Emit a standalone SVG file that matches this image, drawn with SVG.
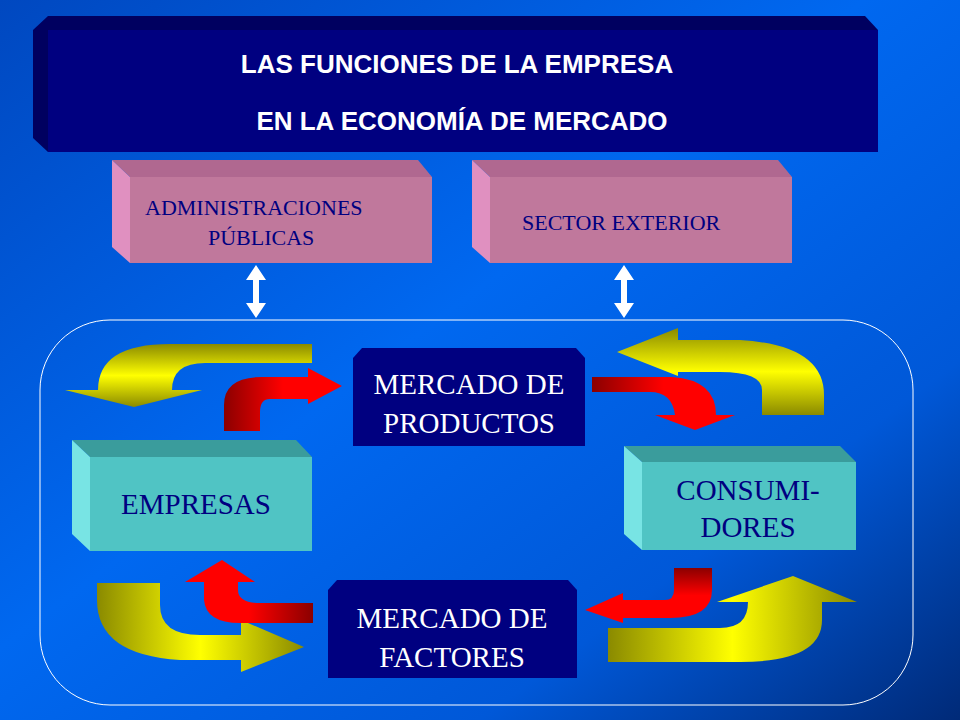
<svg xmlns="http://www.w3.org/2000/svg" width="960" height="720" viewBox="0 0 960 720">
<defs>
<linearGradient id="bg" x1="0" y1="0" x2="1" y2="1"><stop offset="0" stop-color="#0048c0"/><stop offset="0.45" stop-color="#0068f0"/><stop offset="0.75" stop-color="#0058d8"/><stop offset="1" stop-color="#002a78"/></linearGradient>
<linearGradient id="yv" x1="0" y1="0" x2="0" y2="1"><stop offset="0" stop-color="#8a8a00"/><stop offset="0.5" stop-color="#ffff00"/><stop offset="1" stop-color="#8a8a00"/></linearGradient>
<linearGradient id="yh" x1="0" y1="0" x2="1" y2="0"><stop offset="0" stop-color="#8a8a00"/><stop offset="0.5" stop-color="#ffff00"/><stop offset="1" stop-color="#8a8a00"/></linearGradient>
<linearGradient id="rh" x1="0" y1="0" x2="1" y2="0"><stop offset="0" stop-color="#8b0000"/><stop offset="0.5" stop-color="#ff0000"/><stop offset="1" stop-color="#ff0000"/></linearGradient>
<linearGradient id="rl" x1="1" y1="0" x2="0" y2="0"><stop offset="0" stop-color="#8b0000"/><stop offset="0.5" stop-color="#ff0000"/><stop offset="1" stop-color="#ff0000"/></linearGradient>
<linearGradient id="rv" x1="0" y1="1" x2="0" y2="0"><stop offset="0" stop-color="#ff0000"/><stop offset="1" stop-color="#ff0000"/></linearGradient>
<linearGradient id="rd" x1="0" y1="0" x2="0" y2="1"><stop offset="0" stop-color="#8b0000"/><stop offset="0.5" stop-color="#ff0000"/><stop offset="1" stop-color="#ff0000"/></linearGradient>
</defs>
<style>
.nav{fill:#000080}
.navd{fill:#000060}
.pf{fill:#c0789c}.pt{fill:#b06890}.pl{fill:#e090c0}
.tf{fill:#50c4c4}.tt{fill:#3a9c9c}.tl{fill:#78e4e4}
.tt1{font-family:"Liberation Sans",Arial,sans-serif;font-weight:bold;font-size:26px;fill:#fff;text-anchor:middle}
.pk{font-family:"Liberation Serif","Times New Roman",serif;font-size:22px;fill:#000080}
.nd{font-family:"Liberation Serif","Times New Roman",serif;font-size:29px;fill:#fff;text-anchor:middle}
.nd2{font-family:"Liberation Serif","Times New Roman",serif;font-size:29px;fill:#000080;text-anchor:middle}
</style>
<rect width="960" height="720" fill="url(#bg)"/>
<g id="title">
<polygon class="navd" points="33,30 48,16 865,16 878,30 878,152 48,152 33,138"/>
<rect class="nav" x="48" y="30" width="830" height="122"/>
<text class="tt1" x="457" y="73">LAS FUNCIONES DE LA EMPRESA</text>
<text class="tt1" x="462" y="130">EN LA ECONOMÍA DE MERCADO</text>
</g>
<g id="admin">
<polygon class="pt" points="112,160 418,160 432,177 130,177"/>
<polygon class="pl" points="112,160 130,177 130,263 112,247"/>
<rect class="pf" x="130" y="177" width="302" height="86"/>
<text class="pk" x="145" y="215">ADMINISTRACIONES</text>
<text class="pk" x="208" y="245">PÚBLICAS</text>
</g>
<g id="exterior">
<polygon class="pt" points="472,160 778,160 792,177 490,177"/>
<polygon class="pl" points="472,160 490,177 490,263 472,247"/>
<rect class="pf" x="490" y="177" width="302" height="86"/>
<text class="pk" x="522" y="230">SECTOR EXTERIOR</text>
</g>
<g id="frame"><rect x="40" y="320" width="873" height="385" rx="70" fill="none" stroke="#fff" stroke-width="1"/></g>
<g id="prod">
<polygon class="nav" points="353,358 362,348 576,348 585,358 585,446 353,446"/>
<text class="nd" x="469" y="394">MERCADO DE</text>
<text class="nd" x="469" y="433">PRODUCTOS</text>
</g>
<g id="fact">
<polygon class="nav" points="328,590 337,580 568,580 577,590 577,678 328,678"/>
<text class="nd" x="452" y="628">MERCADO DE</text>
<text class="nd" x="452" y="667">FACTORES</text>
</g>
<g id="empresas">
<polygon class="tt" points="72,440 296,440 312,457 90,457"/>
<polygon class="tl" points="72,440 90,457 90,551 72,534"/>
<rect class="tf" x="90" y="457" width="222" height="94"/>
<text class="nd2" x="196" y="514">EMPRESAS</text>
</g>
<g id="consumidores">
<polygon class="tt" points="624,446 840,446 856,462 642,462"/>
<polygon class="tl" points="624,446 642,462 642,550 624,534"/>
<rect class="tf" x="642" y="462" width="214" height="88"/>
<text class="nd2" x="748" y="500">CONSUMI-</text>
<text class="nd2" x="748" y="537">DORES</text>
</g>
<g id="connectors">
<path fill="#fff" d="M256,265 L266,280 L259,280 L259,303 L266,303 L256,318 L246,303 L253,303 L253,280 L246,280 Z"/>
<path fill="#fff" d="M624,265 L634,280 L627,280 L627,303 L634,303 L624,318 L614,303 L621,303 L621,280 L614,280 Z"/>
<path fill="url(#yv)" d="M312,344 L170,344 Q98,344 98,390 L65,390 L134,407 L202,390 L172,390 Q172,363 205,363 L312,363 Z"/>
<path fill="url(#rh)" d="M224,431 L224,405 Q224,377 262,377 L308,377 L308,368 L342,386 L308,404 L308,399 L270,399 Q260,399 260,412 L260,431 Z"/>
<path fill="url(#rh)" d="M592,377 L672,377 Q716,380 716,415 L735,415 L695,430 L655,415 L675,415 Q672,392 650,392 L592,392 Z"/>
<path fill="url(#yv)" d="M617,352 L678,328 L678,340 L740,340 Q824,345 824,395 L824,415 L762,415 L762,390 Q762,372 720,372 L678,372 L678,376 Z"/>
<path fill="url(#yh)" d="M97,583 L160,583 L160,605 Q160,635 200,635 L241,635 L241,620 L304,647 L241,672 L241,660 L180,660 Q97,655 97,600 Z"/>
<path fill="url(#rl)" d="M313,603 L260,603 Q238,603 238,590 L238,582 L255,582 L222,560 L185,582 L204,582 L204,600 Q206,623 240,623 L313,623 Z"/>
<path fill="url(#rd)" d="M712,568 L712,590 Q712,618 670,618 L623,618 L623,623 L585,610 L623,593 L623,600 L665,600 Q674,600 674,590 L674,568 Z"/>
<path fill="url(#yh)" d="M608,628 L720,628 Q748,628 748,602 L717,602 L793,576 L857,602 L822,602 L822,620 Q822,662 740,662 L608,662 Z"/>
</g>
</svg>
